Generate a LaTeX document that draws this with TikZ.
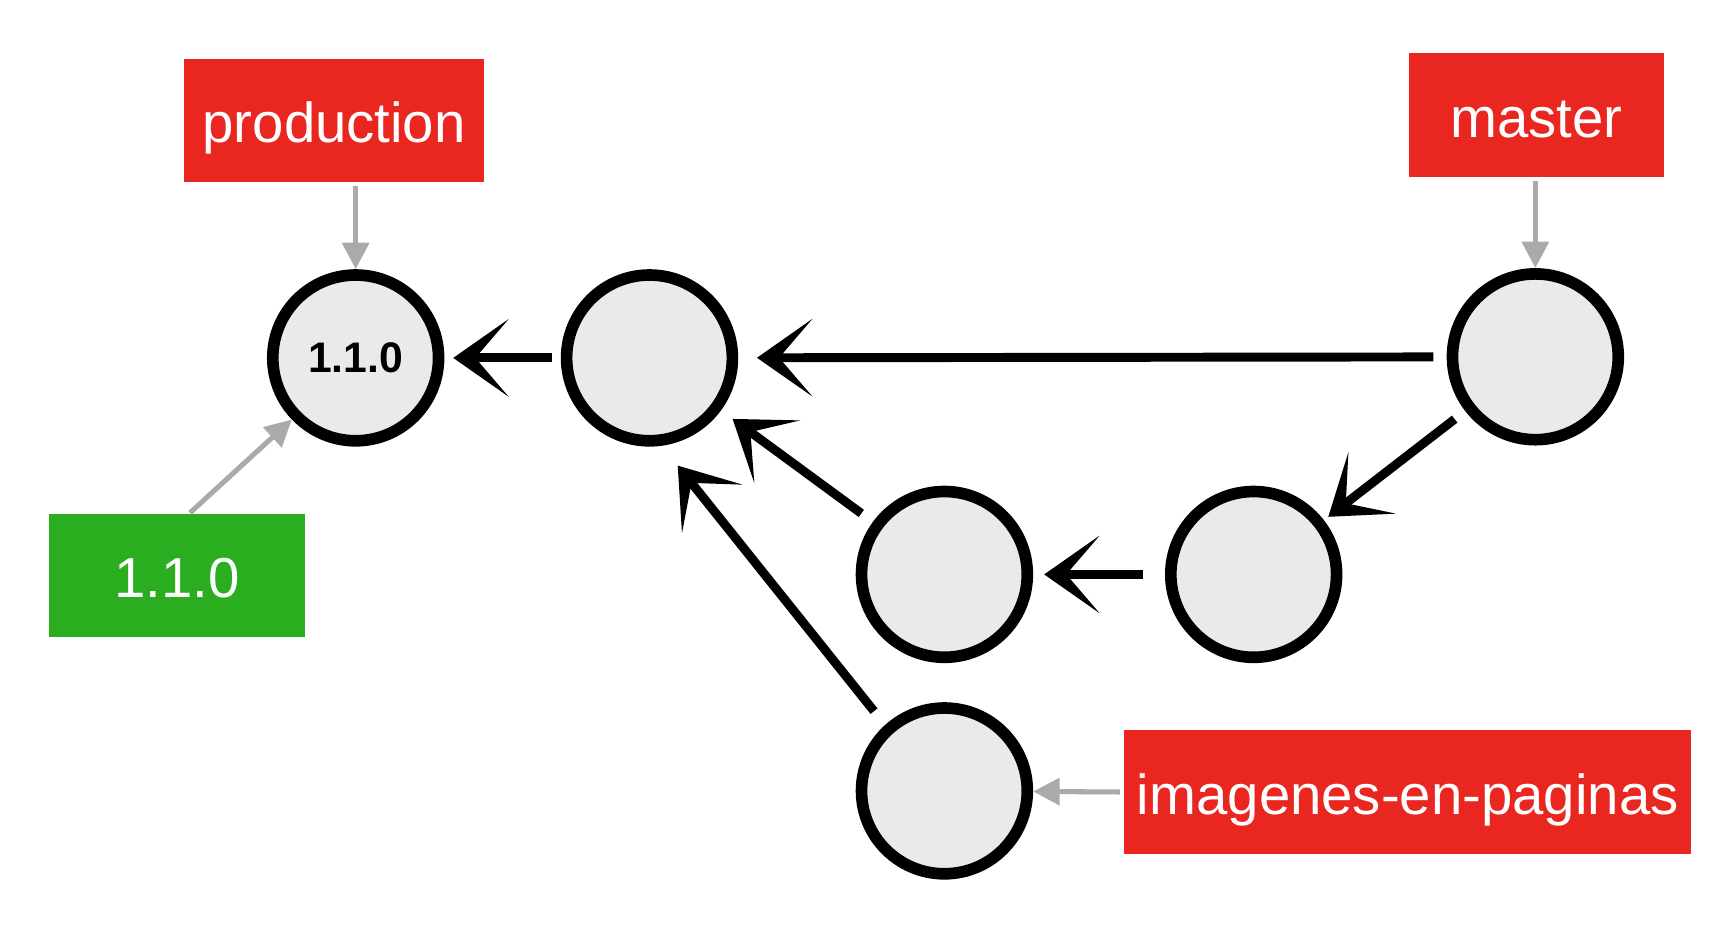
\documentclass[tikz,border=0pt]{standalone}
\usepackage{fontspec}
\setmainfont{Liberation Sans}
\usetikzlibrary{arrows.meta}

\definecolor{branchred}{RGB}{233,38,31}
\definecolor{taggreen}{RGB}{42,174,32}
\definecolor{pointergray}{RGB}{170,170,170}
\definecolor{commitfill}{RGB}{234,234,234}

\tikzset{
    commit/.style={circle, draw=black, fill=commitfill, line width=3pt, minimum size=1.5cm, inner sep=0pt,
        font=\fontsize{11}{13}\selectfont\bfseries},
    branch/.style={fill=branchred, text=white, minimum height=1.12cm, inner sep=0pt,
        text height=14.4pt, text depth=3pt, font=\fontsize{14.5}{17}\selectfont},
    tag/.style={branch, fill=taggreen},
    pointer/.style={draw=pointergray, line width=1.3pt, -{Triangle[length=2.4mm, width=2.4mm]}},
    parent/.style={line width=2.3pt, -{Stealth[length=5mm, width=7mm, inset=3mm]}}
}

\begin{document}
\begin{tikzpicture}[x=0.01cm, y=-0.01cm]
    \useasboundingbox (0, 0) rectangle (1568, 847);
    % commits
    \node[commit] (c1) at (322, 324) {1.1.0};
    \node[commit] (c2) at (588, 324) {};
    \node[commit] (c3) at (1390, 323) {};
    \node[commit] (c4) at (855, 520) {};
    \node[commit] (c5) at (1135, 520) {};
    \node[commit] (c6) at (855, 716) {};
    % labels
    \node[branch, minimum width=2.71cm] (production) at (302.5, 109) {production};
    \node[branch, minimum width=2.30cm] (master) at (1391, 104) {master};
    \node[tag, minimum width=2.32cm] (release) at (160, 521) {1.1.0};
    \node[branch, minimum width=5.13cm] (feature) at (1274.5, 717) {imagenes-en-paginas};
    % history
    \draw[parent, shorten <=0.08cm, shorten >=0.08cm] (c2) -- (c1);
    \draw[parent, shorten <=0.12cm, shorten >=0.17cm] (c3) -- (c2);
    \draw[parent, shorten <=0.12cm, shorten >=0.05cm] (c3) -- (c5);
    \draw[parent, shorten <=0.2cm, shorten >=0.1cm] (c5) -- (c4);
    \draw[parent, shorten <=0.13cm, shorten >=0.13cm] (c4) -- (c2);
    \draw[parent, shorten <=0.16cm, shorten >=0.23cm] (c6.132) -- (c2.-82);
    % pointers
    \draw[pointer, shorten <=0.03cm] (c1 |- production.south) -- (c1);
    \draw[pointer, shorten <=0.03cm] (c3 |- master.south) -- (c3);
    \draw[pointer] ([xshift=0.12cm]release.north) -- (c1.224);
    \draw[pointer, shorten <=0.03cm] (feature.west) -- (c6);
\end{tikzpicture}
\end{document}
